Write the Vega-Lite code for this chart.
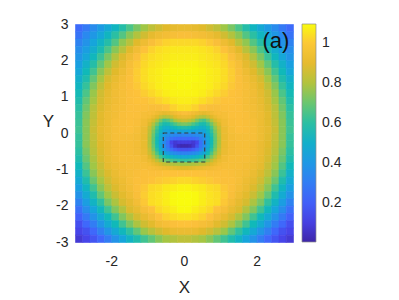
{
"$schema":"https://vega.github.io/schema/vega-lite/v6.json",
"width":218,"height":218,
"autosize":{"type":"none"},
"padding":{"left":75,"top":24,"right":106,"bottom":58},
"background":"white",
"config":{"view":{"stroke":null},"font":"Liberation Sans","rect":{"binSpacing":0}},
"datasets":{"grid":[
{"x":-2.9,"y":2.9,"v":0.24},{"x":-2.7,"y":2.9,"v":0.29},{"x":-2.5,"y":2.9,"v":0.35},{"x":-2.3,"y":2.9,"v":0.41},{"x":-2.1,"y":2.9,"v":0.47},{"x":-1.9,"y":2.9,"v":0.53},{"x":-1.7,"y":2.9,"v":0.59},{"x":-1.5,"y":2.9,"v":0.66},{"x":-1.3,"y":2.9,"v":0.72},{"x":-1.1,"y":2.9,"v":0.77},{"x":-0.9,"y":2.9,"v":0.82},{"x":-0.7,"y":2.9,"v":0.85},{"x":-0.5,"y":2.9,"v":0.88},{"x":-0.3,"y":2.9,"v":0.9},{"x":-0.1,"y":2.9,"v":0.91},{"x":0.1,"y":2.9,"v":0.91},{"x":0.3,"y":2.9,"v":0.9},{"x":0.5,"y":2.9,"v":0.88},{"x":0.7,"y":2.9,"v":0.85},{"x":0.9,"y":2.9,"v":0.82},{"x":1.1,"y":2.9,"v":0.77},{"x":1.3,"y":2.9,"v":0.72},{"x":1.5,"y":2.9,"v":0.66},{"x":1.7,"y":2.9,"v":0.59},{"x":1.9,"y":2.9,"v":0.53},{"x":2.1,"y":2.9,"v":0.47},{"x":2.3,"y":2.9,"v":0.41},{"x":2.5,"y":2.9,"v":0.35},{"x":2.7,"y":2.9,"v":0.29},{"x":2.9,"y":2.9,"v":0.24},
{"x":-2.9,"y":2.7,"v":0.27},{"x":-2.7,"y":2.7,"v":0.34},{"x":-2.5,"y":2.7,"v":0.4},{"x":-2.3,"y":2.7,"v":0.46},{"x":-2.1,"y":2.7,"v":0.53},{"x":-1.9,"y":2.7,"v":0.6},{"x":-1.7,"y":2.7,"v":0.67},{"x":-1.5,"y":2.7,"v":0.74},{"x":-1.3,"y":2.7,"v":0.8},{"x":-1.1,"y":2.7,"v":0.85},{"x":-0.9,"y":2.7,"v":0.9},{"x":-0.7,"y":2.7,"v":0.93},{"x":-0.5,"y":2.7,"v":0.95},{"x":-0.3,"y":2.7,"v":0.96},{"x":-0.1,"y":2.7,"v":0.97},{"x":0.1,"y":2.7,"v":0.97},{"x":0.3,"y":2.7,"v":0.96},{"x":0.5,"y":2.7,"v":0.95},{"x":0.7,"y":2.7,"v":0.93},{"x":0.9,"y":2.7,"v":0.9},{"x":1.1,"y":2.7,"v":0.85},{"x":1.3,"y":2.7,"v":0.8},{"x":1.5,"y":2.7,"v":0.74},{"x":1.7,"y":2.7,"v":0.67},{"x":1.9,"y":2.7,"v":0.6},{"x":2.1,"y":2.7,"v":0.53},{"x":2.3,"y":2.7,"v":0.46},{"x":2.5,"y":2.7,"v":0.4},{"x":2.7,"y":2.7,"v":0.34},{"x":2.9,"y":2.7,"v":0.27},
{"x":-2.9,"y":2.5,"v":0.32},{"x":-2.7,"y":2.5,"v":0.38},{"x":-2.5,"y":2.5,"v":0.45},{"x":-2.3,"y":2.5,"v":0.52},{"x":-2.1,"y":2.5,"v":0.59},{"x":-1.9,"y":2.5,"v":0.67},{"x":-1.7,"y":2.5,"v":0.75},{"x":-1.5,"y":2.5,"v":0.81},{"x":-1.3,"y":2.5,"v":0.88},{"x":-1.1,"y":2.5,"v":0.93},{"x":-0.9,"y":2.5,"v":0.97},{"x":-0.7,"y":2.5,"v":1.0},{"x":-0.5,"y":2.5,"v":1.02},{"x":-0.3,"y":2.5,"v":1.03},{"x":-0.1,"y":2.5,"v":1.03},{"x":0.1,"y":2.5,"v":1.03},{"x":0.3,"y":2.5,"v":1.03},{"x":0.5,"y":2.5,"v":1.02},{"x":0.7,"y":2.5,"v":1.0},{"x":0.9,"y":2.5,"v":0.97},{"x":1.1,"y":2.5,"v":0.93},{"x":1.3,"y":2.5,"v":0.88},{"x":1.5,"y":2.5,"v":0.81},{"x":1.7,"y":2.5,"v":0.75},{"x":1.9,"y":2.5,"v":0.67},{"x":2.1,"y":2.5,"v":0.59},{"x":2.3,"y":2.5,"v":0.52},{"x":2.5,"y":2.5,"v":0.45},{"x":2.7,"y":2.5,"v":0.38},{"x":2.9,"y":2.5,"v":0.32},
{"x":-2.9,"y":2.3,"v":0.36},{"x":-2.7,"y":2.3,"v":0.42},{"x":-2.5,"y":2.3,"v":0.49},{"x":-2.3,"y":2.3,"v":0.57},{"x":-2.1,"y":2.3,"v":0.66},{"x":-1.9,"y":2.3,"v":0.74},{"x":-1.7,"y":2.3,"v":0.81},{"x":-1.5,"y":2.3,"v":0.88},{"x":-1.3,"y":2.3,"v":0.94},{"x":-1.1,"y":2.3,"v":0.99},{"x":-0.9,"y":2.3,"v":1.02},{"x":-0.7,"y":2.3,"v":1.04},{"x":-0.5,"y":2.3,"v":1.05},{"x":-0.3,"y":2.3,"v":1.06},{"x":-0.1,"y":2.3,"v":1.06},{"x":0.1,"y":2.3,"v":1.06},{"x":0.3,"y":2.3,"v":1.06},{"x":0.5,"y":2.3,"v":1.05},{"x":0.7,"y":2.3,"v":1.04},{"x":0.9,"y":2.3,"v":1.02},{"x":1.1,"y":2.3,"v":0.99},{"x":1.3,"y":2.3,"v":0.94},{"x":1.5,"y":2.3,"v":0.88},{"x":1.7,"y":2.3,"v":0.81},{"x":1.9,"y":2.3,"v":0.74},{"x":2.1,"y":2.3,"v":0.66},{"x":2.3,"y":2.3,"v":0.57},{"x":2.5,"y":2.3,"v":0.49},{"x":2.7,"y":2.3,"v":0.42},{"x":2.9,"y":2.3,"v":0.36},
{"x":-2.9,"y":2.1,"v":0.39},{"x":-2.7,"y":2.1,"v":0.46},{"x":-2.5,"y":2.1,"v":0.54},{"x":-2.3,"y":2.1,"v":0.63},{"x":-2.1,"y":2.1,"v":0.72},{"x":-1.9,"y":2.1,"v":0.8},{"x":-1.7,"y":2.1,"v":0.87},{"x":-1.5,"y":2.1,"v":0.93},{"x":-1.3,"y":2.1,"v":0.98},{"x":-1.1,"y":2.1,"v":1.02},{"x":-0.9,"y":2.1,"v":1.04},{"x":-0.7,"y":2.1,"v":1.05},{"x":-0.5,"y":2.1,"v":1.06},{"x":-0.3,"y":2.1,"v":1.07},{"x":-0.1,"y":2.1,"v":1.07},{"x":0.1,"y":2.1,"v":1.07},{"x":0.3,"y":2.1,"v":1.07},{"x":0.5,"y":2.1,"v":1.06},{"x":0.7,"y":2.1,"v":1.05},{"x":0.9,"y":2.1,"v":1.04},{"x":1.1,"y":2.1,"v":1.02},{"x":1.3,"y":2.1,"v":0.98},{"x":1.5,"y":2.1,"v":0.93},{"x":1.7,"y":2.1,"v":0.87},{"x":1.9,"y":2.1,"v":0.8},{"x":2.1,"y":2.1,"v":0.72},{"x":2.3,"y":2.1,"v":0.63},{"x":2.5,"y":2.1,"v":0.54},{"x":2.7,"y":2.1,"v":0.46},{"x":2.9,"y":2.1,"v":0.39},
{"x":-2.9,"y":1.9,"v":0.43},{"x":-2.7,"y":1.9,"v":0.51},{"x":-2.5,"y":1.9,"v":0.59},{"x":-2.3,"y":1.9,"v":0.69},{"x":-2.1,"y":1.9,"v":0.77},{"x":-1.9,"y":1.9,"v":0.85},{"x":-1.7,"y":1.9,"v":0.9},{"x":-1.5,"y":1.9,"v":0.96},{"x":-1.3,"y":1.9,"v":1.0},{"x":-1.1,"y":1.9,"v":1.03},{"x":-0.9,"y":1.9,"v":1.05},{"x":-0.7,"y":1.9,"v":1.06},{"x":-0.5,"y":1.9,"v":1.07},{"x":-0.3,"y":1.9,"v":1.08},{"x":-0.1,"y":1.9,"v":1.08},{"x":0.1,"y":1.9,"v":1.08},{"x":0.3,"y":1.9,"v":1.08},{"x":0.5,"y":1.9,"v":1.07},{"x":0.7,"y":1.9,"v":1.06},{"x":0.9,"y":1.9,"v":1.05},{"x":1.1,"y":1.9,"v":1.03},{"x":1.3,"y":1.9,"v":1.0},{"x":1.5,"y":1.9,"v":0.96},{"x":1.7,"y":1.9,"v":0.9},{"x":1.9,"y":1.9,"v":0.85},{"x":2.1,"y":1.9,"v":0.77},{"x":2.3,"y":1.9,"v":0.69},{"x":2.5,"y":1.9,"v":0.59},{"x":2.7,"y":1.9,"v":0.51},{"x":2.9,"y":1.9,"v":0.43},
{"x":-2.9,"y":1.7,"v":0.46},{"x":-2.7,"y":1.7,"v":0.55},{"x":-2.5,"y":1.7,"v":0.64},{"x":-2.3,"y":1.7,"v":0.74},{"x":-2.1,"y":1.7,"v":0.82},{"x":-1.9,"y":1.7,"v":0.88},{"x":-1.7,"y":1.7,"v":0.93},{"x":-1.5,"y":1.7,"v":0.97},{"x":-1.3,"y":1.7,"v":1.01},{"x":-1.1,"y":1.7,"v":1.04},{"x":-0.9,"y":1.7,"v":1.06},{"x":-0.7,"y":1.7,"v":1.07},{"x":-0.5,"y":1.7,"v":1.08},{"x":-0.3,"y":1.7,"v":1.09},{"x":-0.1,"y":1.7,"v":1.09},{"x":0.1,"y":1.7,"v":1.09},{"x":0.3,"y":1.7,"v":1.09},{"x":0.5,"y":1.7,"v":1.08},{"x":0.7,"y":1.7,"v":1.07},{"x":0.9,"y":1.7,"v":1.06},{"x":1.1,"y":1.7,"v":1.04},{"x":1.3,"y":1.7,"v":1.01},{"x":1.5,"y":1.7,"v":0.97},{"x":1.7,"y":1.7,"v":0.93},{"x":1.9,"y":1.7,"v":0.88},{"x":2.1,"y":1.7,"v":0.82},{"x":2.3,"y":1.7,"v":0.74},{"x":2.5,"y":1.7,"v":0.64},{"x":2.7,"y":1.7,"v":0.55},{"x":2.9,"y":1.7,"v":0.46},
{"x":-2.9,"y":1.5,"v":0.5},{"x":-2.7,"y":1.5,"v":0.58},{"x":-2.5,"y":1.5,"v":0.69},{"x":-2.3,"y":1.5,"v":0.78},{"x":-2.1,"y":1.5,"v":0.86},{"x":-1.9,"y":1.5,"v":0.91},{"x":-1.7,"y":1.5,"v":0.95},{"x":-1.5,"y":1.5,"v":0.98},{"x":-1.3,"y":1.5,"v":1.01},{"x":-1.1,"y":1.5,"v":1.04},{"x":-0.9,"y":1.5,"v":1.06},{"x":-0.7,"y":1.5,"v":1.07},{"x":-0.5,"y":1.5,"v":1.08},{"x":-0.3,"y":1.5,"v":1.09},{"x":-0.1,"y":1.5,"v":1.09},{"x":0.1,"y":1.5,"v":1.09},{"x":0.3,"y":1.5,"v":1.09},{"x":0.5,"y":1.5,"v":1.08},{"x":0.7,"y":1.5,"v":1.07},{"x":0.9,"y":1.5,"v":1.06},{"x":1.1,"y":1.5,"v":1.04},{"x":1.3,"y":1.5,"v":1.01},{"x":1.5,"y":1.5,"v":0.98},{"x":1.7,"y":1.5,"v":0.95},{"x":1.9,"y":1.5,"v":0.91},{"x":2.1,"y":1.5,"v":0.86},{"x":2.3,"y":1.5,"v":0.78},{"x":2.5,"y":1.5,"v":0.69},{"x":2.7,"y":1.5,"v":0.58},{"x":2.9,"y":1.5,"v":0.5},
{"x":-2.9,"y":1.3,"v":0.53},{"x":-2.7,"y":1.3,"v":0.62},{"x":-2.5,"y":1.3,"v":0.73},{"x":-2.3,"y":1.3,"v":0.82},{"x":-2.1,"y":1.3,"v":0.88},{"x":-1.9,"y":1.3,"v":0.93},{"x":-1.7,"y":1.3,"v":0.96},{"x":-1.5,"y":1.3,"v":0.98},{"x":-1.3,"y":1.3,"v":1.0},{"x":-1.1,"y":1.3,"v":1.03},{"x":-0.9,"y":1.3,"v":1.05},{"x":-0.7,"y":1.3,"v":1.07},{"x":-0.5,"y":1.3,"v":1.08},{"x":-0.3,"y":1.3,"v":1.08},{"x":-0.1,"y":1.3,"v":1.09},{"x":0.1,"y":1.3,"v":1.09},{"x":0.3,"y":1.3,"v":1.08},{"x":0.5,"y":1.3,"v":1.08},{"x":0.7,"y":1.3,"v":1.07},{"x":0.9,"y":1.3,"v":1.05},{"x":1.1,"y":1.3,"v":1.03},{"x":1.3,"y":1.3,"v":1.0},{"x":1.5,"y":1.3,"v":0.98},{"x":1.7,"y":1.3,"v":0.96},{"x":1.9,"y":1.3,"v":0.93},{"x":2.1,"y":1.3,"v":0.88},{"x":2.3,"y":1.3,"v":0.82},{"x":2.5,"y":1.3,"v":0.73},{"x":2.7,"y":1.3,"v":0.62},{"x":2.9,"y":1.3,"v":0.53},
{"x":-2.9,"y":1.1,"v":0.56},{"x":-2.7,"y":1.1,"v":0.66},{"x":-2.5,"y":1.1,"v":0.76},{"x":-2.3,"y":1.1,"v":0.85},{"x":-2.1,"y":1.1,"v":0.9},{"x":-1.9,"y":1.1,"v":0.94},{"x":-1.7,"y":1.1,"v":0.96},{"x":-1.5,"y":1.1,"v":0.98},{"x":-1.3,"y":1.1,"v":0.99},{"x":-1.1,"y":1.1,"v":1.01},{"x":-0.9,"y":1.1,"v":1.03},{"x":-0.7,"y":1.1,"v":1.05},{"x":-0.5,"y":1.1,"v":1.07},{"x":-0.3,"y":1.1,"v":1.08},{"x":-0.1,"y":1.1,"v":1.08},{"x":0.1,"y":1.1,"v":1.08},{"x":0.3,"y":1.1,"v":1.08},{"x":0.5,"y":1.1,"v":1.07},{"x":0.7,"y":1.1,"v":1.05},{"x":0.9,"y":1.1,"v":1.03},{"x":1.1,"y":1.1,"v":1.01},{"x":1.3,"y":1.1,"v":0.99},{"x":1.5,"y":1.1,"v":0.98},{"x":1.7,"y":1.1,"v":0.96},{"x":1.9,"y":1.1,"v":0.94},{"x":2.1,"y":1.1,"v":0.9},{"x":2.3,"y":1.1,"v":0.85},{"x":2.5,"y":1.1,"v":0.76},{"x":2.7,"y":1.1,"v":0.66},{"x":2.9,"y":1.1,"v":0.56},
{"x":-2.9,"y":0.9,"v":0.58},{"x":-2.7,"y":0.9,"v":0.69},{"x":-2.5,"y":0.9,"v":0.78},{"x":-2.3,"y":0.9,"v":0.86},{"x":-2.1,"y":0.9,"v":0.91},{"x":-1.9,"y":0.9,"v":0.94},{"x":-1.7,"y":0.9,"v":0.96},{"x":-1.5,"y":0.9,"v":0.98},{"x":-1.3,"y":0.9,"v":0.99},{"x":-1.1,"y":0.9,"v":0.99},{"x":-0.9,"y":0.9,"v":1.0},{"x":-0.7,"y":0.9,"v":1.02},{"x":-0.5,"y":0.9,"v":1.04},{"x":-0.3,"y":0.9,"v":1.06},{"x":-0.1,"y":0.9,"v":1.07},{"x":0.1,"y":0.9,"v":1.07},{"x":0.3,"y":0.9,"v":1.06},{"x":0.5,"y":0.9,"v":1.04},{"x":0.7,"y":0.9,"v":1.02},{"x":0.9,"y":0.9,"v":1.0},{"x":1.1,"y":0.9,"v":0.99},{"x":1.3,"y":0.9,"v":0.99},{"x":1.5,"y":0.9,"v":0.98},{"x":1.7,"y":0.9,"v":0.96},{"x":1.9,"y":0.9,"v":0.94},{"x":2.1,"y":0.9,"v":0.91},{"x":2.3,"y":0.9,"v":0.86},{"x":2.5,"y":0.9,"v":0.78},{"x":2.7,"y":0.9,"v":0.69},{"x":2.9,"y":0.9,"v":0.58},
{"x":-2.9,"y":0.7,"v":0.6},{"x":-2.7,"y":0.7,"v":0.71},{"x":-2.5,"y":0.7,"v":0.81},{"x":-2.3,"y":0.7,"v":0.87},{"x":-2.1,"y":0.7,"v":0.92},{"x":-1.9,"y":0.7,"v":0.95},{"x":-1.7,"y":0.7,"v":0.96},{"x":-1.5,"y":0.7,"v":0.98},{"x":-1.3,"y":0.7,"v":0.98},{"x":-1.1,"y":0.7,"v":0.98},{"x":-0.9,"y":0.7,"v":0.97},{"x":-0.7,"y":0.7,"v":0.97},{"x":-0.5,"y":0.7,"v":0.99},{"x":-0.3,"y":0.7,"v":1.02},{"x":-0.1,"y":0.7,"v":1.04},{"x":0.1,"y":0.7,"v":1.04},{"x":0.3,"y":0.7,"v":1.02},{"x":0.5,"y":0.7,"v":0.99},{"x":0.7,"y":0.7,"v":0.97},{"x":0.9,"y":0.7,"v":0.97},{"x":1.1,"y":0.7,"v":0.98},{"x":1.3,"y":0.7,"v":0.98},{"x":1.5,"y":0.7,"v":0.98},{"x":1.7,"y":0.7,"v":0.96},{"x":1.9,"y":0.7,"v":0.95},{"x":2.1,"y":0.7,"v":0.92},{"x":2.3,"y":0.7,"v":0.87},{"x":2.5,"y":0.7,"v":0.81},{"x":2.7,"y":0.7,"v":0.71},{"x":2.9,"y":0.7,"v":0.6},
{"x":-2.9,"y":0.5,"v":0.62},{"x":-2.7,"y":0.5,"v":0.73},{"x":-2.5,"y":0.5,"v":0.82},{"x":-2.3,"y":0.5,"v":0.89},{"x":-2.1,"y":0.5,"v":0.93},{"x":-1.9,"y":0.5,"v":0.95},{"x":-1.7,"y":0.5,"v":0.97},{"x":-1.5,"y":0.5,"v":0.98},{"x":-1.3,"y":0.5,"v":0.98},{"x":-1.1,"y":0.5,"v":0.96},{"x":-0.9,"y":0.5,"v":0.93},{"x":-0.7,"y":0.5,"v":0.88},{"x":-0.5,"y":0.5,"v":0.86},{"x":-0.3,"y":0.5,"v":0.91},{"x":-0.1,"y":0.5,"v":0.94},{"x":0.1,"y":0.5,"v":0.94},{"x":0.3,"y":0.5,"v":0.91},{"x":0.5,"y":0.5,"v":0.86},{"x":0.7,"y":0.5,"v":0.88},{"x":0.9,"y":0.5,"v":0.93},{"x":1.1,"y":0.5,"v":0.96},{"x":1.3,"y":0.5,"v":0.98},{"x":1.5,"y":0.5,"v":0.98},{"x":1.7,"y":0.5,"v":0.97},{"x":1.9,"y":0.5,"v":0.95},{"x":2.1,"y":0.5,"v":0.93},{"x":2.3,"y":0.5,"v":0.89},{"x":2.5,"y":0.5,"v":0.82},{"x":2.7,"y":0.5,"v":0.73},{"x":2.9,"y":0.5,"v":0.62},
{"x":-2.9,"y":0.3,"v":0.63},{"x":-2.7,"y":0.3,"v":0.74},{"x":-2.5,"y":0.3,"v":0.83},{"x":-2.3,"y":0.3,"v":0.89},{"x":-2.1,"y":0.3,"v":0.93},{"x":-1.9,"y":0.3,"v":0.96},{"x":-1.7,"y":0.3,"v":0.97},{"x":-1.5,"y":0.3,"v":0.98},{"x":-1.3,"y":0.3,"v":0.97},{"x":-1.1,"y":0.3,"v":0.94},{"x":-0.9,"y":0.3,"v":0.86},{"x":-0.7,"y":0.3,"v":0.72},{"x":-0.5,"y":0.3,"v":0.62},{"x":-0.3,"y":0.3,"v":0.7},{"x":-0.1,"y":0.3,"v":0.77},{"x":0.1,"y":0.3,"v":0.77},{"x":0.3,"y":0.3,"v":0.7},{"x":0.5,"y":0.3,"v":0.62},{"x":0.7,"y":0.3,"v":0.72},{"x":0.9,"y":0.3,"v":0.86},{"x":1.1,"y":0.3,"v":0.94},{"x":1.3,"y":0.3,"v":0.97},{"x":1.5,"y":0.3,"v":0.98},{"x":1.7,"y":0.3,"v":0.97},{"x":1.9,"y":0.3,"v":0.96},{"x":2.1,"y":0.3,"v":0.93},{"x":2.3,"y":0.3,"v":0.89},{"x":2.5,"y":0.3,"v":0.83},{"x":2.7,"y":0.3,"v":0.74},{"x":2.9,"y":0.3,"v":0.63},
{"x":-2.9,"y":0.1,"v":0.64},{"x":-2.7,"y":0.1,"v":0.74},{"x":-2.5,"y":0.1,"v":0.84},{"x":-2.3,"y":0.1,"v":0.9},{"x":-2.1,"y":0.1,"v":0.93},{"x":-1.9,"y":0.1,"v":0.96},{"x":-1.7,"y":0.1,"v":0.97},{"x":-1.5,"y":0.1,"v":0.98},{"x":-1.3,"y":0.1,"v":0.96},{"x":-1.1,"y":0.1,"v":0.92},{"x":-0.9,"y":0.1,"v":0.8},{"x":-0.7,"y":0.1,"v":0.58},{"x":-0.5,"y":0.1,"v":0.46},{"x":-0.3,"y":0.1,"v":0.48},{"x":-0.1,"y":0.1,"v":0.5},{"x":0.1,"y":0.1,"v":0.5},{"x":0.3,"y":0.1,"v":0.48},{"x":0.5,"y":0.1,"v":0.46},{"x":0.7,"y":0.1,"v":0.58},{"x":0.9,"y":0.1,"v":0.8},{"x":1.1,"y":0.1,"v":0.92},{"x":1.3,"y":0.1,"v":0.96},{"x":1.5,"y":0.1,"v":0.98},{"x":1.7,"y":0.1,"v":0.97},{"x":1.9,"y":0.1,"v":0.96},{"x":2.1,"y":0.1,"v":0.93},{"x":2.3,"y":0.1,"v":0.9},{"x":2.5,"y":0.1,"v":0.84},{"x":2.7,"y":0.1,"v":0.74},{"x":2.9,"y":0.1,"v":0.64},
{"x":-2.9,"y":-0.1,"v":0.62},{"x":-2.7,"y":-0.1,"v":0.74},{"x":-2.5,"y":-0.1,"v":0.83},{"x":-2.3,"y":-0.1,"v":0.89},{"x":-2.1,"y":-0.1,"v":0.93},{"x":-1.9,"y":-0.1,"v":0.96},{"x":-1.7,"y":-0.1,"v":0.96},{"x":-1.5,"y":-0.1,"v":0.96},{"x":-1.3,"y":-0.1,"v":0.95},{"x":-1.1,"y":-0.1,"v":0.91},{"x":-0.9,"y":-0.1,"v":0.76},{"x":-0.7,"y":-0.1,"v":0.52},{"x":-0.5,"y":-0.1,"v":0.37},{"x":-0.3,"y":-0.1,"v":0.3},{"x":-0.1,"y":-0.1,"v":0.28},{"x":0.1,"y":-0.1,"v":0.28},{"x":0.3,"y":-0.1,"v":0.3},{"x":0.5,"y":-0.1,"v":0.37},{"x":0.7,"y":-0.1,"v":0.52},{"x":0.9,"y":-0.1,"v":0.76},{"x":1.1,"y":-0.1,"v":0.91},{"x":1.3,"y":-0.1,"v":0.95},{"x":1.5,"y":-0.1,"v":0.96},{"x":1.7,"y":-0.1,"v":0.96},{"x":1.9,"y":-0.1,"v":0.96},{"x":2.1,"y":-0.1,"v":0.93},{"x":2.3,"y":-0.1,"v":0.89},{"x":2.5,"y":-0.1,"v":0.83},{"x":2.7,"y":-0.1,"v":0.74},{"x":2.9,"y":-0.1,"v":0.62},
{"x":-2.9,"y":-0.3,"v":0.62},{"x":-2.7,"y":-0.3,"v":0.74},{"x":-2.5,"y":-0.3,"v":0.82},{"x":-2.3,"y":-0.3,"v":0.88},{"x":-2.1,"y":-0.3,"v":0.92},{"x":-1.9,"y":-0.3,"v":0.95},{"x":-1.7,"y":-0.3,"v":0.96},{"x":-1.5,"y":-0.3,"v":0.96},{"x":-1.3,"y":-0.3,"v":0.95},{"x":-1.1,"y":-0.3,"v":0.91},{"x":-0.9,"y":-0.3,"v":0.75},{"x":-0.7,"y":-0.3,"v":0.5},{"x":-0.5,"y":-0.3,"v":0.28},{"x":-0.3,"y":-0.3,"v":0.08},{"x":-0.1,"y":-0.3,"v":0.03},{"x":0.1,"y":-0.3,"v":0.03},{"x":0.3,"y":-0.3,"v":0.08},{"x":0.5,"y":-0.3,"v":0.28},{"x":0.7,"y":-0.3,"v":0.5},{"x":0.9,"y":-0.3,"v":0.75},{"x":1.1,"y":-0.3,"v":0.91},{"x":1.3,"y":-0.3,"v":0.95},{"x":1.5,"y":-0.3,"v":0.96},{"x":1.7,"y":-0.3,"v":0.96},{"x":1.9,"y":-0.3,"v":0.95},{"x":2.1,"y":-0.3,"v":0.92},{"x":2.3,"y":-0.3,"v":0.88},{"x":2.5,"y":-0.3,"v":0.82},{"x":2.7,"y":-0.3,"v":0.74},{"x":2.9,"y":-0.3,"v":0.62},
{"x":-2.9,"y":-0.5,"v":0.6},{"x":-2.7,"y":-0.5,"v":0.72},{"x":-2.5,"y":-0.5,"v":0.81},{"x":-2.3,"y":-0.5,"v":0.87},{"x":-2.1,"y":-0.5,"v":0.92},{"x":-1.9,"y":-0.5,"v":0.95},{"x":-1.7,"y":-0.5,"v":0.96},{"x":-1.5,"y":-0.5,"v":0.96},{"x":-1.3,"y":-0.5,"v":0.95},{"x":-1.1,"y":-0.5,"v":0.92},{"x":-0.9,"y":-0.5,"v":0.78},{"x":-0.7,"y":-0.5,"v":0.55},{"x":-0.5,"y":-0.5,"v":0.36},{"x":-0.3,"y":-0.5,"v":0.27},{"x":-0.1,"y":-0.5,"v":0.24},{"x":0.1,"y":-0.5,"v":0.24},{"x":0.3,"y":-0.5,"v":0.27},{"x":0.5,"y":-0.5,"v":0.36},{"x":0.7,"y":-0.5,"v":0.55},{"x":0.9,"y":-0.5,"v":0.78},{"x":1.1,"y":-0.5,"v":0.92},{"x":1.3,"y":-0.5,"v":0.95},{"x":1.5,"y":-0.5,"v":0.96},{"x":1.7,"y":-0.5,"v":0.96},{"x":1.9,"y":-0.5,"v":0.95},{"x":2.1,"y":-0.5,"v":0.92},{"x":2.3,"y":-0.5,"v":0.87},{"x":2.5,"y":-0.5,"v":0.81},{"x":2.7,"y":-0.5,"v":0.72},{"x":2.9,"y":-0.5,"v":0.6},
{"x":-2.9,"y":-0.7,"v":0.58},{"x":-2.7,"y":-0.7,"v":0.7},{"x":-2.5,"y":-0.7,"v":0.79},{"x":-2.3,"y":-0.7,"v":0.86},{"x":-2.1,"y":-0.7,"v":0.91},{"x":-1.9,"y":-0.7,"v":0.94},{"x":-1.7,"y":-0.7,"v":0.96},{"x":-1.5,"y":-0.7,"v":0.96},{"x":-1.3,"y":-0.7,"v":0.96},{"x":-1.1,"y":-0.7,"v":0.94},{"x":-0.9,"y":-0.7,"v":0.86},{"x":-0.7,"y":-0.7,"v":0.7},{"x":-0.5,"y":-0.7,"v":0.6},{"x":-0.3,"y":-0.7,"v":0.56},{"x":-0.1,"y":-0.7,"v":0.54},{"x":0.1,"y":-0.7,"v":0.54},{"x":0.3,"y":-0.7,"v":0.56},{"x":0.5,"y":-0.7,"v":0.6},{"x":0.7,"y":-0.7,"v":0.7},{"x":0.9,"y":-0.7,"v":0.86},{"x":1.1,"y":-0.7,"v":0.94},{"x":1.3,"y":-0.7,"v":0.96},{"x":1.5,"y":-0.7,"v":0.96},{"x":1.7,"y":-0.7,"v":0.96},{"x":1.9,"y":-0.7,"v":0.94},{"x":2.1,"y":-0.7,"v":0.91},{"x":2.3,"y":-0.7,"v":0.86},{"x":2.5,"y":-0.7,"v":0.79},{"x":2.7,"y":-0.7,"v":0.7},{"x":2.9,"y":-0.7,"v":0.58},
{"x":-2.9,"y":-0.9,"v":0.55},{"x":-2.7,"y":-0.9,"v":0.67},{"x":-2.5,"y":-0.9,"v":0.77},{"x":-2.3,"y":-0.9,"v":0.84},{"x":-2.1,"y":-0.9,"v":0.9},{"x":-1.9,"y":-0.9,"v":0.93},{"x":-1.7,"y":-0.9,"v":0.95},{"x":-1.5,"y":-0.9,"v":0.96},{"x":-1.3,"y":-0.9,"v":0.96},{"x":-1.1,"y":-0.9,"v":0.96},{"x":-0.9,"y":-0.9,"v":0.94},{"x":-0.7,"y":-0.9,"v":0.89},{"x":-0.5,"y":-0.9,"v":0.85},{"x":-0.3,"y":-0.9,"v":0.83},{"x":-0.1,"y":-0.9,"v":0.82},{"x":0.1,"y":-0.9,"v":0.82},{"x":0.3,"y":-0.9,"v":0.83},{"x":0.5,"y":-0.9,"v":0.85},{"x":0.7,"y":-0.9,"v":0.89},{"x":0.9,"y":-0.9,"v":0.94},{"x":1.1,"y":-0.9,"v":0.96},{"x":1.3,"y":-0.9,"v":0.96},{"x":1.5,"y":-0.9,"v":0.96},{"x":1.7,"y":-0.9,"v":0.95},{"x":1.9,"y":-0.9,"v":0.93},{"x":2.1,"y":-0.9,"v":0.9},{"x":2.3,"y":-0.9,"v":0.84},{"x":2.5,"y":-0.9,"v":0.77},{"x":2.7,"y":-0.9,"v":0.67},{"x":2.9,"y":-0.9,"v":0.55},
{"x":-2.9,"y":-1.1,"v":0.51},{"x":-2.7,"y":-1.1,"v":0.63},{"x":-2.5,"y":-1.1,"v":0.74},{"x":-2.3,"y":-1.1,"v":0.82},{"x":-2.1,"y":-1.1,"v":0.87},{"x":-1.9,"y":-1.1,"v":0.92},{"x":-1.7,"y":-1.1,"v":0.95},{"x":-1.5,"y":-1.1,"v":0.96},{"x":-1.3,"y":-1.1,"v":0.97},{"x":-1.1,"y":-1.1,"v":0.98},{"x":-0.9,"y":-1.1,"v":0.98},{"x":-0.7,"y":-1.1,"v":0.98},{"x":-0.5,"y":-1.1,"v":0.99},{"x":-0.3,"y":-1.1,"v":0.99},{"x":-0.1,"y":-1.1,"v":0.99},{"x":0.1,"y":-1.1,"v":0.99},{"x":0.3,"y":-1.1,"v":0.99},{"x":0.5,"y":-1.1,"v":0.99},{"x":0.7,"y":-1.1,"v":0.98},{"x":0.9,"y":-1.1,"v":0.98},{"x":1.1,"y":-1.1,"v":0.98},{"x":1.3,"y":-1.1,"v":0.97},{"x":1.5,"y":-1.1,"v":0.96},{"x":1.7,"y":-1.1,"v":0.95},{"x":1.9,"y":-1.1,"v":0.92},{"x":2.1,"y":-1.1,"v":0.87},{"x":2.3,"y":-1.1,"v":0.82},{"x":2.5,"y":-1.1,"v":0.74},{"x":2.7,"y":-1.1,"v":0.63},{"x":2.9,"y":-1.1,"v":0.51},
{"x":-2.9,"y":-1.3,"v":0.47},{"x":-2.7,"y":-1.3,"v":0.58},{"x":-2.5,"y":-1.3,"v":0.7},{"x":-2.3,"y":-1.3,"v":0.78},{"x":-2.1,"y":-1.3,"v":0.85},{"x":-1.9,"y":-1.3,"v":0.9},{"x":-1.7,"y":-1.3,"v":0.93},{"x":-1.5,"y":-1.3,"v":0.96},{"x":-1.3,"y":-1.3,"v":0.98},{"x":-1.1,"y":-1.3,"v":0.98},{"x":-0.9,"y":-1.3,"v":0.99},{"x":-0.7,"y":-1.3,"v":1.0},{"x":-0.5,"y":-1.3,"v":1.01},{"x":-0.3,"y":-1.3,"v":1.02},{"x":-0.1,"y":-1.3,"v":1.03},{"x":0.1,"y":-1.3,"v":1.03},{"x":0.3,"y":-1.3,"v":1.02},{"x":0.5,"y":-1.3,"v":1.01},{"x":0.7,"y":-1.3,"v":1.0},{"x":0.9,"y":-1.3,"v":0.99},{"x":1.1,"y":-1.3,"v":0.98},{"x":1.3,"y":-1.3,"v":0.98},{"x":1.5,"y":-1.3,"v":0.96},{"x":1.7,"y":-1.3,"v":0.93},{"x":1.9,"y":-1.3,"v":0.9},{"x":2.1,"y":-1.3,"v":0.85},{"x":2.3,"y":-1.3,"v":0.78},{"x":2.5,"y":-1.3,"v":0.7},{"x":2.7,"y":-1.3,"v":0.58},{"x":2.9,"y":-1.3,"v":0.47},
{"x":-2.9,"y":-1.5,"v":0.43},{"x":-2.7,"y":-1.5,"v":0.53},{"x":-2.5,"y":-1.5,"v":0.64},{"x":-2.3,"y":-1.5,"v":0.74},{"x":-2.1,"y":-1.5,"v":0.82},{"x":-1.9,"y":-1.5,"v":0.87},{"x":-1.7,"y":-1.5,"v":0.92},{"x":-1.5,"y":-1.5,"v":0.95},{"x":-1.3,"y":-1.5,"v":0.98},{"x":-1.1,"y":-1.5,"v":1.0},{"x":-0.9,"y":-1.5,"v":1.03},{"x":-0.7,"y":-1.5,"v":1.04},{"x":-0.5,"y":-1.5,"v":1.06},{"x":-0.3,"y":-1.5,"v":1.07},{"x":-0.1,"y":-1.5,"v":1.08},{"x":0.1,"y":-1.5,"v":1.08},{"x":0.3,"y":-1.5,"v":1.07},{"x":0.5,"y":-1.5,"v":1.06},{"x":0.7,"y":-1.5,"v":1.04},{"x":0.9,"y":-1.5,"v":1.03},{"x":1.1,"y":-1.5,"v":1.0},{"x":1.3,"y":-1.5,"v":0.98},{"x":1.5,"y":-1.5,"v":0.95},{"x":1.7,"y":-1.5,"v":0.92},{"x":1.9,"y":-1.5,"v":0.87},{"x":2.1,"y":-1.5,"v":0.82},{"x":2.3,"y":-1.5,"v":0.74},{"x":2.5,"y":-1.5,"v":0.64},{"x":2.7,"y":-1.5,"v":0.53},{"x":2.9,"y":-1.5,"v":0.43},
{"x":-2.9,"y":-1.7,"v":0.38},{"x":-2.7,"y":-1.7,"v":0.48},{"x":-2.5,"y":-1.7,"v":0.58},{"x":-2.3,"y":-1.7,"v":0.69},{"x":-2.1,"y":-1.7,"v":0.77},{"x":-1.9,"y":-1.7,"v":0.84},{"x":-1.7,"y":-1.7,"v":0.89},{"x":-1.5,"y":-1.7,"v":0.93},{"x":-1.3,"y":-1.7,"v":0.97},{"x":-1.1,"y":-1.7,"v":1.01},{"x":-0.9,"y":-1.7,"v":1.04},{"x":-0.7,"y":-1.7,"v":1.05},{"x":-0.5,"y":-1.7,"v":1.07},{"x":-0.3,"y":-1.7,"v":1.09},{"x":-0.1,"y":-1.7,"v":1.1},{"x":0.1,"y":-1.7,"v":1.1},{"x":0.3,"y":-1.7,"v":1.09},{"x":0.5,"y":-1.7,"v":1.07},{"x":0.7,"y":-1.7,"v":1.05},{"x":0.9,"y":-1.7,"v":1.04},{"x":1.1,"y":-1.7,"v":1.01},{"x":1.3,"y":-1.7,"v":0.97},{"x":1.5,"y":-1.7,"v":0.93},{"x":1.7,"y":-1.7,"v":0.89},{"x":1.9,"y":-1.7,"v":0.84},{"x":2.1,"y":-1.7,"v":0.77},{"x":2.3,"y":-1.7,"v":0.69},{"x":2.5,"y":-1.7,"v":0.58},{"x":2.7,"y":-1.7,"v":0.48},{"x":2.9,"y":-1.7,"v":0.38},
{"x":-2.9,"y":-1.9,"v":0.32},{"x":-2.7,"y":-1.9,"v":0.42},{"x":-2.5,"y":-1.9,"v":0.52},{"x":-2.3,"y":-1.9,"v":0.61},{"x":-2.1,"y":-1.9,"v":0.72},{"x":-1.9,"y":-1.9,"v":0.79},{"x":-1.7,"y":-1.9,"v":0.86},{"x":-1.5,"y":-1.9,"v":0.9},{"x":-1.3,"y":-1.9,"v":0.95},{"x":-1.1,"y":-1.9,"v":1.0},{"x":-0.9,"y":-1.9,"v":1.04},{"x":-0.7,"y":-1.9,"v":1.05},{"x":-0.5,"y":-1.9,"v":1.07},{"x":-0.3,"y":-1.9,"v":1.09},{"x":-0.1,"y":-1.9,"v":1.1},{"x":0.1,"y":-1.9,"v":1.1},{"x":0.3,"y":-1.9,"v":1.09},{"x":0.5,"y":-1.9,"v":1.07},{"x":0.7,"y":-1.9,"v":1.05},{"x":0.9,"y":-1.9,"v":1.04},{"x":1.1,"y":-1.9,"v":1.0},{"x":1.3,"y":-1.9,"v":0.95},{"x":1.5,"y":-1.9,"v":0.9},{"x":1.7,"y":-1.9,"v":0.86},{"x":1.9,"y":-1.9,"v":0.79},{"x":2.1,"y":-1.9,"v":0.72},{"x":2.3,"y":-1.9,"v":0.61},{"x":2.5,"y":-1.9,"v":0.52},{"x":2.7,"y":-1.9,"v":0.42},{"x":2.9,"y":-1.9,"v":0.32},
{"x":-2.9,"y":-2.1,"v":0.26},{"x":-2.7,"y":-2.1,"v":0.36},{"x":-2.5,"y":-2.1,"v":0.45},{"x":-2.3,"y":-2.1,"v":0.54},{"x":-2.1,"y":-2.1,"v":0.64},{"x":-1.9,"y":-2.1,"v":0.73},{"x":-1.7,"y":-2.1,"v":0.8},{"x":-1.5,"y":-2.1,"v":0.87},{"x":-1.3,"y":-2.1,"v":0.91},{"x":-1.1,"y":-2.1,"v":0.96},{"x":-0.9,"y":-2.1,"v":0.99},{"x":-0.7,"y":-2.1,"v":1.03},{"x":-0.5,"y":-2.1,"v":1.05},{"x":-0.3,"y":-2.1,"v":1.07},{"x":-0.1,"y":-2.1,"v":1.09},{"x":0.1,"y":-2.1,"v":1.09},{"x":0.3,"y":-2.1,"v":1.07},{"x":0.5,"y":-2.1,"v":1.05},{"x":0.7,"y":-2.1,"v":1.03},{"x":0.9,"y":-2.1,"v":0.99},{"x":1.1,"y":-2.1,"v":0.96},{"x":1.3,"y":-2.1,"v":0.91},{"x":1.5,"y":-2.1,"v":0.87},{"x":1.7,"y":-2.1,"v":0.8},{"x":1.9,"y":-2.1,"v":0.73},{"x":2.1,"y":-2.1,"v":0.64},{"x":2.3,"y":-2.1,"v":0.54},{"x":2.5,"y":-2.1,"v":0.45},{"x":2.7,"y":-2.1,"v":0.36},{"x":2.9,"y":-2.1,"v":0.26},
{"x":-2.9,"y":-2.3,"v":0.21},{"x":-2.7,"y":-2.3,"v":0.29},{"x":-2.5,"y":-2.3,"v":0.38},{"x":-2.3,"y":-2.3,"v":0.47},{"x":-2.1,"y":-2.3,"v":0.55},{"x":-1.9,"y":-2.3,"v":0.64},{"x":-1.7,"y":-2.3,"v":0.73},{"x":-1.5,"y":-2.3,"v":0.8},{"x":-1.3,"y":-2.3,"v":0.86},{"x":-1.1,"y":-2.3,"v":0.91},{"x":-0.9,"y":-2.3,"v":0.95},{"x":-0.7,"y":-2.3,"v":0.99},{"x":-0.5,"y":-2.3,"v":1.02},{"x":-0.3,"y":-2.3,"v":1.04},{"x":-0.1,"y":-2.3,"v":1.05},{"x":0.1,"y":-2.3,"v":1.05},{"x":0.3,"y":-2.3,"v":1.04},{"x":0.5,"y":-2.3,"v":1.02},{"x":0.7,"y":-2.3,"v":0.99},{"x":0.9,"y":-2.3,"v":0.95},{"x":1.1,"y":-2.3,"v":0.91},{"x":1.3,"y":-2.3,"v":0.86},{"x":1.5,"y":-2.3,"v":0.8},{"x":1.7,"y":-2.3,"v":0.73},{"x":1.9,"y":-2.3,"v":0.64},{"x":2.1,"y":-2.3,"v":0.55},{"x":2.3,"y":-2.3,"v":0.47},{"x":2.5,"y":-2.3,"v":0.38},{"x":2.7,"y":-2.3,"v":0.29},{"x":2.9,"y":-2.3,"v":0.21},
{"x":-2.9,"y":-2.5,"v":0.15},{"x":-2.7,"y":-2.5,"v":0.23},{"x":-2.5,"y":-2.5,"v":0.3},{"x":-2.3,"y":-2.5,"v":0.39},{"x":-2.1,"y":-2.5,"v":0.48},{"x":-1.9,"y":-2.5,"v":0.55},{"x":-1.7,"y":-2.5,"v":0.64},{"x":-1.5,"y":-2.5,"v":0.72},{"x":-1.3,"y":-2.5,"v":0.79},{"x":-1.1,"y":-2.5,"v":0.85},{"x":-0.9,"y":-2.5,"v":0.89},{"x":-0.7,"y":-2.5,"v":0.94},{"x":-0.5,"y":-2.5,"v":0.96},{"x":-0.3,"y":-2.5,"v":0.98},{"x":-0.1,"y":-2.5,"v":0.99},{"x":0.1,"y":-2.5,"v":0.99},{"x":0.3,"y":-2.5,"v":0.98},{"x":0.5,"y":-2.5,"v":0.96},{"x":0.7,"y":-2.5,"v":0.94},{"x":0.9,"y":-2.5,"v":0.89},{"x":1.1,"y":-2.5,"v":0.85},{"x":1.3,"y":-2.5,"v":0.79},{"x":1.5,"y":-2.5,"v":0.72},{"x":1.7,"y":-2.5,"v":0.64},{"x":1.9,"y":-2.5,"v":0.55},{"x":2.1,"y":-2.5,"v":0.48},{"x":2.3,"y":-2.5,"v":0.39},{"x":2.5,"y":-2.5,"v":0.3},{"x":2.7,"y":-2.5,"v":0.23},{"x":2.9,"y":-2.5,"v":0.15},
{"x":-2.9,"y":-2.7,"v":0.12},{"x":-2.7,"y":-2.7,"v":0.16},{"x":-2.5,"y":-2.7,"v":0.23},{"x":-2.3,"y":-2.7,"v":0.31},{"x":-2.1,"y":-2.7,"v":0.39},{"x":-1.9,"y":-2.7,"v":0.47},{"x":-1.7,"y":-2.7,"v":0.54},{"x":-1.5,"y":-2.7,"v":0.61},{"x":-1.3,"y":-2.7,"v":0.69},{"x":-1.1,"y":-2.7,"v":0.76},{"x":-0.9,"y":-2.7,"v":0.81},{"x":-0.7,"y":-2.7,"v":0.85},{"x":-0.5,"y":-2.7,"v":0.88},{"x":-0.3,"y":-2.7,"v":0.91},{"x":-0.1,"y":-2.7,"v":0.92},{"x":0.1,"y":-2.7,"v":0.92},{"x":0.3,"y":-2.7,"v":0.91},{"x":0.5,"y":-2.7,"v":0.88},{"x":0.7,"y":-2.7,"v":0.85},{"x":0.9,"y":-2.7,"v":0.81},{"x":1.1,"y":-2.7,"v":0.76},{"x":1.3,"y":-2.7,"v":0.69},{"x":1.5,"y":-2.7,"v":0.61},{"x":1.7,"y":-2.7,"v":0.54},{"x":1.9,"y":-2.7,"v":0.47},{"x":2.1,"y":-2.7,"v":0.39},{"x":2.3,"y":-2.7,"v":0.31},{"x":2.5,"y":-2.7,"v":0.23},{"x":2.7,"y":-2.7,"v":0.16},{"x":2.9,"y":-2.7,"v":0.12},
{"x":-2.9,"y":-2.9,"v":0.08},{"x":-2.7,"y":-2.9,"v":0.12},{"x":-2.5,"y":-2.9,"v":0.17},{"x":-2.3,"y":-2.9,"v":0.23},{"x":-2.1,"y":-2.9,"v":0.3},{"x":-1.9,"y":-2.9,"v":0.38},{"x":-1.7,"y":-2.9,"v":0.45},{"x":-1.5,"y":-2.9,"v":0.52},{"x":-1.3,"y":-2.9,"v":0.58},{"x":-1.1,"y":-2.9,"v":0.64},{"x":-0.9,"y":-2.9,"v":0.69},{"x":-0.7,"y":-2.9,"v":0.74},{"x":-0.5,"y":-2.9,"v":0.78},{"x":-0.3,"y":-2.9,"v":0.8},{"x":-0.1,"y":-2.9,"v":0.82},{"x":0.1,"y":-2.9,"v":0.82},{"x":0.3,"y":-2.9,"v":0.8},{"x":0.5,"y":-2.9,"v":0.78},{"x":0.7,"y":-2.9,"v":0.74},{"x":0.9,"y":-2.9,"v":0.69},{"x":1.1,"y":-2.9,"v":0.64},{"x":1.3,"y":-2.9,"v":0.58},{"x":1.5,"y":-2.9,"v":0.52},{"x":1.7,"y":-2.9,"v":0.45},{"x":1.9,"y":-2.9,"v":0.38},{"x":2.1,"y":-2.9,"v":0.3},{"x":2.3,"y":-2.9,"v":0.23},{"x":2.5,"y":-2.9,"v":0.17},{"x":2.7,"y":-2.9,"v":0.12},{"x":2.9,"y":-2.9,"v":0.08}
],
"fine":[
{"x":-0.95,"y":0.55,"v":0.97},{"x":-0.85,"y":0.55,"v":0.96},{"x":-0.75,"y":0.55,"v":0.94},{"x":-0.65,"y":0.55,"v":0.92},{"x":-0.55,"y":0.55,"v":0.9},{"x":-0.45,"y":0.55,"v":0.91},{"x":-0.35,"y":0.55,"v":0.93},{"x":-0.25,"y":0.55,"v":0.95},{"x":-0.15,"y":0.55,"v":0.97},{"x":-0.05,"y":0.55,"v":0.98},{"x":0.05,"y":0.55,"v":0.98},{"x":0.15,"y":0.55,"v":0.97},{"x":0.25,"y":0.55,"v":0.95},{"x":0.35,"y":0.55,"v":0.93},{"x":0.45,"y":0.55,"v":0.91},{"x":0.55,"y":0.55,"v":0.9},{"x":0.65,"y":0.55,"v":0.92},{"x":0.75,"y":0.55,"v":0.94},{"x":0.85,"y":0.55,"v":0.96},{"x":0.95,"y":0.55,"v":0.97},
{"x":-0.95,"y":0.45,"v":0.95},{"x":-0.85,"y":0.45,"v":0.92},{"x":-0.75,"y":0.45,"v":0.88},{"x":-0.65,"y":0.45,"v":0.83},{"x":-0.55,"y":0.45,"v":0.8},{"x":-0.45,"y":0.45,"v":0.81},{"x":-0.35,"y":0.45,"v":0.84},{"x":-0.25,"y":0.45,"v":0.88},{"x":-0.15,"y":0.45,"v":0.91},{"x":-0.05,"y":0.45,"v":0.92},{"x":0.05,"y":0.45,"v":0.92},{"x":0.15,"y":0.45,"v":0.91},{"x":0.25,"y":0.45,"v":0.88},{"x":0.35,"y":0.45,"v":0.84},{"x":0.45,"y":0.45,"v":0.81},{"x":0.55,"y":0.45,"v":0.8},{"x":0.65,"y":0.45,"v":0.83},{"x":0.75,"y":0.45,"v":0.88},{"x":0.85,"y":0.45,"v":0.92},{"x":0.95,"y":0.45,"v":0.95},
{"x":-0.95,"y":0.35,"v":0.91},{"x":-0.85,"y":0.35,"v":0.86},{"x":-0.75,"y":0.35,"v":0.79},{"x":-0.65,"y":0.35,"v":0.71},{"x":-0.55,"y":0.35,"v":0.65},{"x":-0.45,"y":0.35,"v":0.67},{"x":-0.35,"y":0.35,"v":0.72},{"x":-0.25,"y":0.35,"v":0.78},{"x":-0.15,"y":0.35,"v":0.82},{"x":-0.05,"y":0.35,"v":0.84},{"x":0.05,"y":0.35,"v":0.84},{"x":0.15,"y":0.35,"v":0.82},{"x":0.25,"y":0.35,"v":0.78},{"x":0.35,"y":0.35,"v":0.72},{"x":0.45,"y":0.35,"v":0.67},{"x":0.55,"y":0.35,"v":0.65},{"x":0.65,"y":0.35,"v":0.71},{"x":0.75,"y":0.35,"v":0.79},{"x":0.85,"y":0.35,"v":0.86},{"x":0.95,"y":0.35,"v":0.91},
{"x":-0.95,"y":0.25,"v":0.87},{"x":-0.85,"y":0.25,"v":0.8},{"x":-0.75,"y":0.25,"v":0.71},{"x":-0.65,"y":0.25,"v":0.62},{"x":-0.55,"y":0.25,"v":0.57},{"x":-0.45,"y":0.25,"v":0.57},{"x":-0.35,"y":0.25,"v":0.61},{"x":-0.25,"y":0.25,"v":0.66},{"x":-0.15,"y":0.25,"v":0.7},{"x":-0.05,"y":0.25,"v":0.72},{"x":0.05,"y":0.25,"v":0.72},{"x":0.15,"y":0.25,"v":0.7},{"x":0.25,"y":0.25,"v":0.66},{"x":0.35,"y":0.25,"v":0.61},{"x":0.45,"y":0.25,"v":0.57},{"x":0.55,"y":0.25,"v":0.57},{"x":0.65,"y":0.25,"v":0.62},{"x":0.75,"y":0.25,"v":0.71},{"x":0.85,"y":0.25,"v":0.8},{"x":0.95,"y":0.25,"v":0.87},
{"x":-0.95,"y":0.15,"v":0.84},{"x":-0.85,"y":0.15,"v":0.75},{"x":-0.75,"y":0.15,"v":0.65},{"x":-0.65,"y":0.15,"v":0.56},{"x":-0.55,"y":0.15,"v":0.51},{"x":-0.45,"y":0.15,"v":0.5},{"x":-0.35,"y":0.15,"v":0.52},{"x":-0.25,"y":0.15,"v":0.55},{"x":-0.15,"y":0.15,"v":0.57},{"x":-0.05,"y":0.15,"v":0.58},{"x":0.05,"y":0.15,"v":0.58},{"x":0.15,"y":0.15,"v":0.57},{"x":0.25,"y":0.15,"v":0.55},{"x":0.35,"y":0.15,"v":0.52},{"x":0.45,"y":0.15,"v":0.5},{"x":0.55,"y":0.15,"v":0.51},{"x":0.65,"y":0.15,"v":0.56},{"x":0.75,"y":0.15,"v":0.65},{"x":0.85,"y":0.15,"v":0.75},{"x":0.95,"y":0.15,"v":0.84},
{"x":-0.95,"y":0.05,"v":0.82},{"x":-0.85,"y":0.05,"v":0.72},{"x":-0.75,"y":0.05,"v":0.61},{"x":-0.65,"y":0.05,"v":0.52},{"x":-0.55,"y":0.05,"v":0.45},{"x":-0.45,"y":0.05,"v":0.43},{"x":-0.35,"y":0.05,"v":0.43},{"x":-0.25,"y":0.05,"v":0.44},{"x":-0.15,"y":0.05,"v":0.45},{"x":-0.05,"y":0.05,"v":0.45},{"x":0.05,"y":0.05,"v":0.45},{"x":0.15,"y":0.05,"v":0.45},{"x":0.25,"y":0.05,"v":0.44},{"x":0.35,"y":0.05,"v":0.43},{"x":0.45,"y":0.05,"v":0.43},{"x":0.55,"y":0.05,"v":0.45},{"x":0.65,"y":0.05,"v":0.52},{"x":0.75,"y":0.05,"v":0.61},{"x":0.85,"y":0.05,"v":0.72},{"x":0.95,"y":0.05,"v":0.82},
{"x":-0.95,"y":-0.05,"v":0.81},{"x":-0.85,"y":-0.05,"v":0.7},{"x":-0.75,"y":-0.05,"v":0.58},{"x":-0.65,"y":-0.05,"v":0.48},{"x":-0.55,"y":-0.05,"v":0.41},{"x":-0.45,"y":-0.05,"v":0.37},{"x":-0.35,"y":-0.05,"v":0.35},{"x":-0.25,"y":-0.05,"v":0.34},{"x":-0.15,"y":-0.05,"v":0.33},{"x":-0.05,"y":-0.05,"v":0.33},{"x":0.05,"y":-0.05,"v":0.33},{"x":0.15,"y":-0.05,"v":0.33},{"x":0.25,"y":-0.05,"v":0.34},{"x":0.35,"y":-0.05,"v":0.35},{"x":0.45,"y":-0.05,"v":0.37},{"x":0.55,"y":-0.05,"v":0.41},{"x":0.65,"y":-0.05,"v":0.48},{"x":0.75,"y":-0.05,"v":0.58},{"x":0.85,"y":-0.05,"v":0.7},{"x":0.95,"y":-0.05,"v":0.81},
{"x":-0.95,"y":-0.15,"v":0.8},{"x":-0.85,"y":-0.15,"v":0.69},{"x":-0.75,"y":-0.15,"v":0.56},{"x":-0.65,"y":-0.15,"v":0.46},{"x":-0.55,"y":-0.15,"v":0.37},{"x":-0.45,"y":-0.15,"v":0.31},{"x":-0.35,"y":-0.15,"v":0.26},{"x":-0.25,"y":-0.15,"v":0.24},{"x":-0.15,"y":-0.15,"v":0.23},{"x":-0.05,"y":-0.15,"v":0.23},{"x":0.05,"y":-0.15,"v":0.23},{"x":0.15,"y":-0.15,"v":0.23},{"x":0.25,"y":-0.15,"v":0.24},{"x":0.35,"y":-0.15,"v":0.26},{"x":0.45,"y":-0.15,"v":0.31},{"x":0.55,"y":-0.15,"v":0.37},{"x":0.65,"y":-0.15,"v":0.46},{"x":0.75,"y":-0.15,"v":0.56},{"x":0.85,"y":-0.15,"v":0.69},{"x":0.95,"y":-0.15,"v":0.8},
{"x":-0.95,"y":-0.25,"v":0.8},{"x":-0.85,"y":-0.25,"v":0.69},{"x":-0.75,"y":-0.25,"v":0.56},{"x":-0.65,"y":-0.25,"v":0.45},{"x":-0.55,"y":-0.25,"v":0.35},{"x":-0.45,"y":-0.25,"v":0.26},{"x":-0.35,"y":-0.25,"v":0.12},{"x":-0.25,"y":-0.25,"v":0.08},{"x":-0.15,"y":-0.25,"v":0.1},{"x":-0.05,"y":-0.25,"v":0.1},{"x":0.05,"y":-0.25,"v":0.1},{"x":0.15,"y":-0.25,"v":0.1},{"x":0.25,"y":-0.25,"v":0.08},{"x":0.35,"y":-0.25,"v":0.12},{"x":0.45,"y":-0.25,"v":0.26},{"x":0.55,"y":-0.25,"v":0.35},{"x":0.65,"y":-0.25,"v":0.45},{"x":0.75,"y":-0.25,"v":0.56},{"x":0.85,"y":-0.25,"v":0.69},{"x":0.95,"y":-0.25,"v":0.8},
{"x":-0.95,"y":-0.35,"v":0.81},{"x":-0.85,"y":-0.35,"v":0.7},{"x":-0.75,"y":-0.35,"v":0.57},{"x":-0.65,"y":-0.35,"v":0.46},{"x":-0.55,"y":-0.35,"v":0.35},{"x":-0.45,"y":-0.35,"v":0.27},{"x":-0.35,"y":-0.35,"v":0.16},{"x":-0.25,"y":-0.35,"v":0.07},{"x":-0.15,"y":-0.35,"v":0.03},{"x":-0.05,"y":-0.35,"v":0.02},{"x":0.05,"y":-0.35,"v":0.02},{"x":0.15,"y":-0.35,"v":0.03},{"x":0.25,"y":-0.35,"v":0.07},{"x":0.35,"y":-0.35,"v":0.16},{"x":0.45,"y":-0.35,"v":0.27},{"x":0.55,"y":-0.35,"v":0.35},{"x":0.65,"y":-0.35,"v":0.46},{"x":0.75,"y":-0.35,"v":0.57},{"x":0.85,"y":-0.35,"v":0.7},{"x":0.95,"y":-0.35,"v":0.81},
{"x":-0.95,"y":-0.45,"v":0.83},{"x":-0.85,"y":-0.45,"v":0.72},{"x":-0.75,"y":-0.45,"v":0.6},{"x":-0.65,"y":-0.45,"v":0.49},{"x":-0.55,"y":-0.45,"v":0.39},{"x":-0.45,"y":-0.45,"v":0.31},{"x":-0.35,"y":-0.45,"v":0.25},{"x":-0.25,"y":-0.45,"v":0.2},{"x":-0.15,"y":-0.45,"v":0.17},{"x":-0.05,"y":-0.45,"v":0.16},{"x":0.05,"y":-0.45,"v":0.16},{"x":0.15,"y":-0.45,"v":0.17},{"x":0.25,"y":-0.45,"v":0.2},{"x":0.35,"y":-0.45,"v":0.25},{"x":0.45,"y":-0.45,"v":0.31},{"x":0.55,"y":-0.45,"v":0.39},{"x":0.65,"y":-0.45,"v":0.49},{"x":0.75,"y":-0.45,"v":0.6},{"x":0.85,"y":-0.45,"v":0.72},{"x":0.95,"y":-0.45,"v":0.83},
{"x":-0.95,"y":-0.55,"v":0.85},{"x":-0.85,"y":-0.55,"v":0.76},{"x":-0.75,"y":-0.55,"v":0.66},{"x":-0.65,"y":-0.55,"v":0.56},{"x":-0.55,"y":-0.55,"v":0.47},{"x":-0.45,"y":-0.55,"v":0.42},{"x":-0.35,"y":-0.55,"v":0.38},{"x":-0.25,"y":-0.55,"v":0.35},{"x":-0.15,"y":-0.55,"v":0.33},{"x":-0.05,"y":-0.55,"v":0.32},{"x":0.05,"y":-0.55,"v":0.32},{"x":0.15,"y":-0.55,"v":0.33},{"x":0.25,"y":-0.55,"v":0.35},{"x":0.35,"y":-0.55,"v":0.38},{"x":0.45,"y":-0.55,"v":0.42},{"x":0.55,"y":-0.55,"v":0.47},{"x":0.65,"y":-0.55,"v":0.56},{"x":0.75,"y":-0.55,"v":0.66},{"x":0.85,"y":-0.55,"v":0.76},{"x":0.95,"y":-0.55,"v":0.85},
{"x":-0.95,"y":-0.65,"v":0.88},{"x":-0.85,"y":-0.65,"v":0.81},{"x":-0.75,"y":-0.65,"v":0.73},{"x":-0.65,"y":-0.65,"v":0.65},{"x":-0.55,"y":-0.65,"v":0.58},{"x":-0.45,"y":-0.65,"v":0.55},{"x":-0.35,"y":-0.65,"v":0.52},{"x":-0.25,"y":-0.65,"v":0.5},{"x":-0.15,"y":-0.65,"v":0.48},{"x":-0.05,"y":-0.65,"v":0.47},{"x":0.05,"y":-0.65,"v":0.47},{"x":0.15,"y":-0.65,"v":0.48},{"x":0.25,"y":-0.65,"v":0.5},{"x":0.35,"y":-0.65,"v":0.52},{"x":0.45,"y":-0.65,"v":0.55},{"x":0.55,"y":-0.65,"v":0.58},{"x":0.65,"y":-0.65,"v":0.65},{"x":0.75,"y":-0.65,"v":0.73},{"x":0.85,"y":-0.65,"v":0.81},{"x":0.95,"y":-0.65,"v":0.88},
{"x":-0.95,"y":-0.75,"v":0.92},{"x":-0.85,"y":-0.75,"v":0.87},{"x":-0.75,"y":-0.75,"v":0.82},{"x":-0.65,"y":-0.75,"v":0.76},{"x":-0.55,"y":-0.75,"v":0.71},{"x":-0.45,"y":-0.75,"v":0.69},{"x":-0.35,"y":-0.75,"v":0.66},{"x":-0.25,"y":-0.75,"v":0.64},{"x":-0.15,"y":-0.75,"v":0.63},{"x":-0.05,"y":-0.75,"v":0.62},{"x":0.05,"y":-0.75,"v":0.62},{"x":0.15,"y":-0.75,"v":0.63},{"x":0.25,"y":-0.75,"v":0.64},{"x":0.35,"y":-0.75,"v":0.66},{"x":0.45,"y":-0.75,"v":0.69},{"x":0.55,"y":-0.75,"v":0.71},{"x":0.65,"y":-0.75,"v":0.76},{"x":0.75,"y":-0.75,"v":0.82},{"x":0.85,"y":-0.75,"v":0.87},{"x":0.95,"y":-0.75,"v":0.92},
{"x":-0.95,"y":-0.85,"v":0.95},{"x":-0.85,"y":-0.85,"v":0.92},{"x":-0.75,"y":-0.85,"v":0.89},{"x":-0.65,"y":-0.85,"v":0.86},{"x":-0.55,"y":-0.85,"v":0.83},{"x":-0.45,"y":-0.85,"v":0.82},{"x":-0.35,"y":-0.85,"v":0.8},{"x":-0.25,"y":-0.85,"v":0.79},{"x":-0.15,"y":-0.85,"v":0.78},{"x":-0.05,"y":-0.85,"v":0.77},{"x":0.05,"y":-0.85,"v":0.77},{"x":0.15,"y":-0.85,"v":0.78},{"x":0.25,"y":-0.85,"v":0.79},{"x":0.35,"y":-0.85,"v":0.8},{"x":0.45,"y":-0.85,"v":0.82},{"x":0.55,"y":-0.85,"v":0.83},{"x":0.65,"y":-0.85,"v":0.86},{"x":0.75,"y":-0.85,"v":0.89},{"x":0.85,"y":-0.85,"v":0.92},{"x":0.95,"y":-0.85,"v":0.95},
{"x":-0.95,"y":-0.95,"v":0.97},{"x":-0.85,"y":-0.95,"v":0.96},{"x":-0.75,"y":-0.95,"v":0.95},{"x":-0.65,"y":-0.95,"v":0.94},{"x":-0.55,"y":-0.95,"v":0.93},{"x":-0.45,"y":-0.95,"v":0.92},{"x":-0.35,"y":-0.95,"v":0.91},{"x":-0.25,"y":-0.95,"v":0.9},{"x":-0.15,"y":-0.95,"v":0.89},{"x":-0.05,"y":-0.95,"v":0.88},{"x":0.05,"y":-0.95,"v":0.88},{"x":0.15,"y":-0.95,"v":0.89},{"x":0.25,"y":-0.95,"v":0.9},{"x":0.35,"y":-0.95,"v":0.91},{"x":0.45,"y":-0.95,"v":0.92},{"x":0.55,"y":-0.95,"v":0.93},{"x":0.65,"y":-0.95,"v":0.94},{"x":0.75,"y":-0.95,"v":0.95},{"x":0.85,"y":-0.95,"v":0.96},{"x":0.95,"y":-0.95,"v":0.97}
]},
"layer":[
{"data":{"name":"grid"},
 "mark":{"type":"rect","strokeWidth":0.6,"stroke":{"expr":"scale('color', datum.v)"}},
 "encoding":{
  "x":{"field":"x","type":"quantitative","bin":{"step":0.2,"extent":[-3,3],"nice":false},"title":"X","scale":{"domain":[-3,3],"nice":false,"zero":false},
   "axis":{"orient":"bottom","values":[-2,0,2],"labelExpr":"datum.value + ''","grid":false,"domain":false,"ticks":false,"tickSize":0,"labelFlush":false,"labelOverlap":false,"labelFontSize":14,"labelFont":"Liberation Sans","labelPadding":12,"labelColor":"#262626","titleFontSize":17,"titleFont":"Liberation Sans","titleFontWeight":"normal","titleColor":"#262626","titleY":45,"titleBaseline":"middle"}},
  "y":{"field":"y","type":"quantitative","bin":{"step":0.2,"extent":[-3,3],"nice":false},"title":"Y","scale":{"domain":[-3,3],"nice":false,"zero":false},
   "axis":{"orient":"left","values":[-3,-2,-1,0,1,2,3],"labelExpr":"datum.value + ''","grid":false,"domain":false,"ticks":false,"tickSize":0,"labelFlush":false,"labelOverlap":false,"labelFontSize":14,"labelFont":"Liberation Sans","labelPadding":7,"labelColor":"#262626","titleFontSize":17,"titleFont":"Liberation Sans","titleFontWeight":"normal","titleColor":"#262626","titleAngle":0,"titleX":-27,"titleY":97,"titleAlign":"center","titleBaseline":"middle"}},
  "color":{"field":"v","type":"quantitative",
   "scale":{"domain":[0.005,1.095],"clamp":true,"interpolate":"rgb","range":["#3e26a8","#4743e8","#4066fc","#2c87f0","#17a3de","#10b9b9","#4ac58a","#9fc746","#e0ba2b","#fdc03c","#f9fb0e"]},
   "legend":{"type":"gradient","title":null,"orient":"right","offset":9,"direction":"vertical","gradientLength":218,"gradientThickness":14,"values":[0.2,0.4,0.6,0.8,1],"format":"~g","labelFontSize":14,"labelFont":"Liberation Sans","labelColor":"#262626","labelOffset":6,"labelOverlap":false,"gradientStrokeColor":"#8c8c8c","gradientStrokeWidth":0.7}}
 }},
{"data":{"name":"fine"},
 "mark":{"type":"rect","strokeWidth":0.5,"stroke":{"expr":"scale('color', datum.v)"}},
 "encoding":{
  "x":{"field":"x","type":"quantitative","bin":{"step":0.1,"extent":[-1,1],"nice":false},"title":"X"},
  "y":{"field":"y","type":"quantitative","bin":{"step":0.1,"extent":[-1,0.6],"nice":false},"title":"Y"},
  "color":{"field":"v","type":"quantitative"}
 }},
{"data":{"values":[{}]},
 "mark":{"type":"rect","fill":"transparent","stroke":"#3a3a3a","strokeDash":[4,3],"strokeWidth":1.1},
 "encoding":{
  "x":{"datum":-0.57,"type":"quantitative"},
  "x2":{"datum":0.57},
  "y":{"datum":0,"type":"quantitative"},
  "y2":{"datum":-0.8}
 }},
{"data":{"values":[{}]},
 "mark":{"type":"text","text":"(a)","align":"right","baseline":"middle","fontSize":22,"font":"Liberation Sans","fill":"#111111"},
 "encoding":{"x":{"datum":2.9,"type":"quantitative"},"y":{"datum":2.54,"type":"quantitative"}}}
]
}
